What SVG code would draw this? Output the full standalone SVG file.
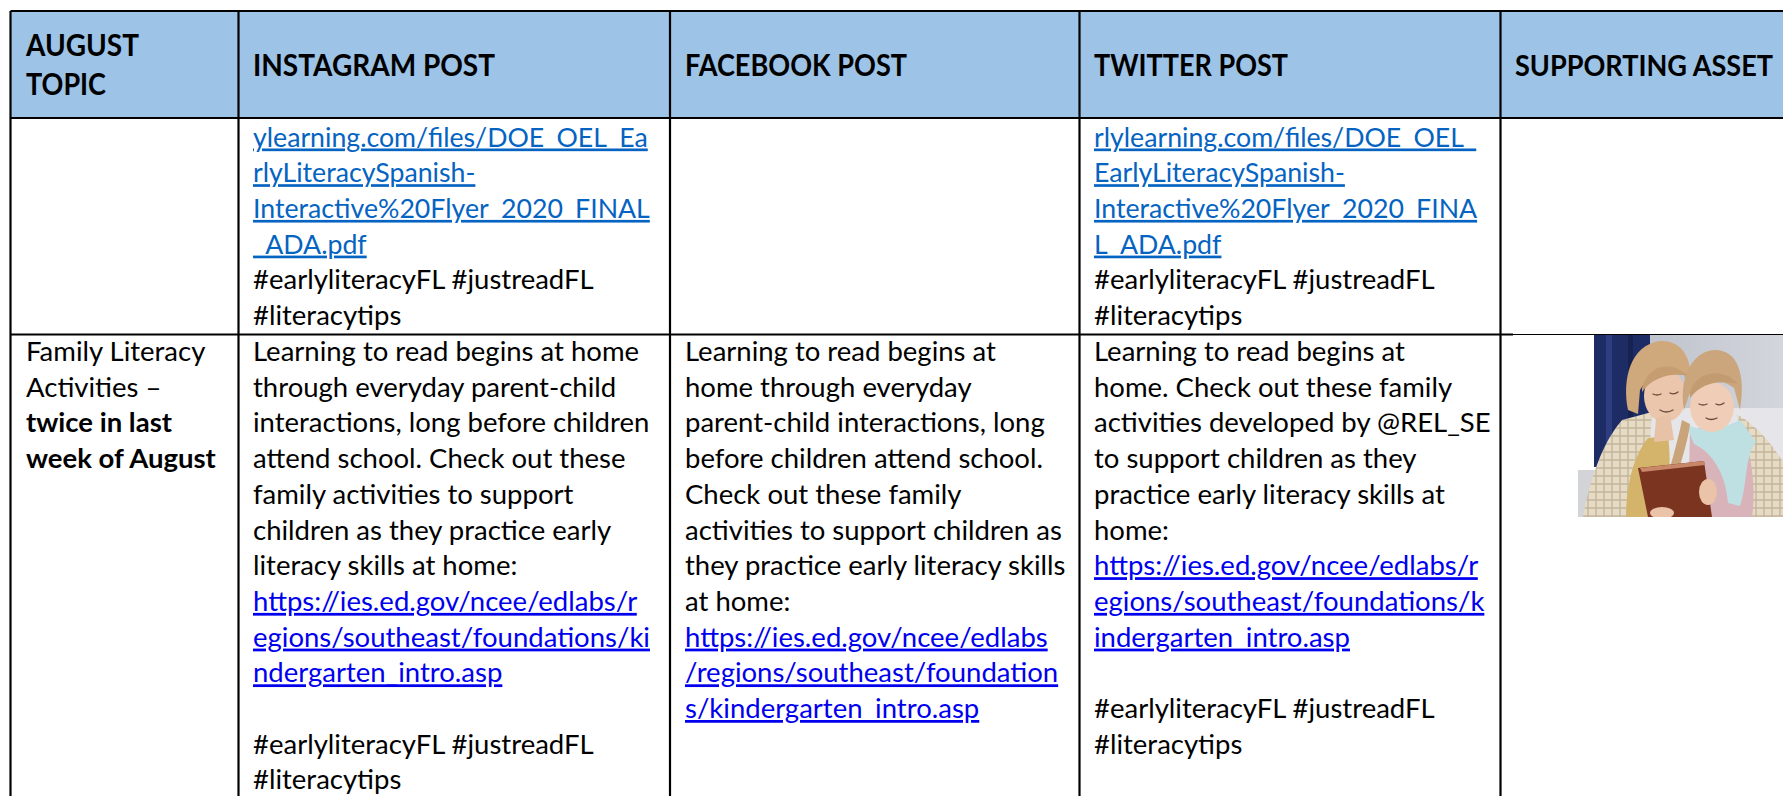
<svg xmlns="http://www.w3.org/2000/svg" width="1783" height="796" viewBox="0 0 1783 796">
<style>
.t{font-family:Lato,"Open Sans","Liberation Sans",sans-serif;font-size:27.5px;fill:#000}
.b{font-weight:bold}
.h{font-family:Lato,"Open Sans","Liberation Sans",sans-serif;font-size:29.5px;font-weight:bold;fill:#000}
.l1{fill:#0563C1;text-decoration:underline;font-size:26.7px}
.l2{fill:#0000EE;text-decoration:underline}
.grid{stroke:#000;stroke-width:2.2;fill:none}
.feat{fill:none;stroke:#6B4A3A;stroke-width:1.3;stroke-linecap:round}
</style>
<defs>
<clipPath id="pc"><rect x="1578" y="335" width="205" height="182"/></clipPath>
<pattern id="plaid" width="8" height="8" patternUnits="userSpaceOnUse">
<rect width="8" height="8" fill="#E6DCC6"/>
<path d="M0 4H8M4 0V8" stroke="#C4B69C" stroke-width="1.4"/>
</pattern>
<linearGradient id="wall" x1="0" y1="0" x2="1" y2="0">
<stop offset="0" stop-color="#BFC3CD"/>
<stop offset="1" stop-color="#D3D6DC"/>
</linearGradient>
</defs>
<rect width="1783" height="796" fill="#fff"/>
<g id="header">
<rect x="10.5" y="11" width="1772.5" height="107" fill="#9DC3E6"/>
<text class="h" x="26" y="55.5" textLength="113" lengthAdjust="spacingAndGlyphs">AUGUST</text>
<text class="h" x="26" y="94.5" textLength="80" lengthAdjust="spacingAndGlyphs">TOPIC</text>
<text class="h" x="253" y="76" textLength="242" lengthAdjust="spacingAndGlyphs">INSTAGRAM POST</text>
<text class="h" x="685" y="76" textLength="222" lengthAdjust="spacingAndGlyphs">FACEBOOK POST</text>
<text class="h" x="1094" y="76" textLength="194" lengthAdjust="spacingAndGlyphs">TWITTER POST</text>
<text class="h" x="1515" y="76" style="font-size:27.6px" textLength="258" lengthAdjust="spacingAndGlyphs">SUPPORTING ASSET</text>
</g>
<g id="row1">
<text class="t">
<tspan class="l1" x="253" y="146.5">ylearning.com/files/DOE_OEL_Ea</tspan>
<tspan class="l1" x="253" y="182.2">rlyLiteracySpanish-</tspan>
<tspan class="l1" x="253" y="217.9">Interactive%20Flyer_2020_FINAL</tspan>
<tspan class="l1" x="253" y="253.6">_ADA.pdf</tspan>
<tspan x="253" y="289.3">#earlyliteracyFL #justreadFL</tspan>
<tspan x="253" y="325">#literacytips</tspan>
</text>
<text class="t">
<tspan class="l1" x="1094" y="146.5">rlylearning.com/files/DOE_OEL_</tspan>
<tspan class="l1" x="1094" y="182.2">EarlyLiteracySpanish-</tspan>
<tspan class="l1" x="1094" y="217.9">Interactive%20Flyer_2020_FINA</tspan>
<tspan class="l1" x="1094" y="253.6">L_ADA.pdf</tspan>
<tspan x="1094" y="289.3">#earlyliteracyFL #justreadFL</tspan>
<tspan x="1094" y="325">#literacytips</tspan>
</text>
</g>
<g id="row2">
<text class="t">
<tspan x="26" y="361">Family Literacy</tspan>
<tspan x="26" y="396.7">Activities –</tspan>
<tspan class="b" x="26" y="432.4">twice in last</tspan>
<tspan class="b" x="26" y="468.1">week of August</tspan>
</text>
<text class="t">
<tspan x="253" y="361">Learning to read begins at home</tspan>
<tspan x="253" y="396.7">through everyday parent-child</tspan>
<tspan x="253" y="432.4">interactions, long before children</tspan>
<tspan x="253" y="468.1">attend school. Check out these</tspan>
<tspan x="253" y="503.8">family activities to support</tspan>
<tspan x="253" y="539.5">children as they practice early</tspan>
<tspan x="253" y="575.2">literacy skills at home:</tspan>
<tspan class="l2" x="253" y="610.9">https://ies.ed.gov/ncee/edlabs/r</tspan>
<tspan class="l2" x="253" y="646.6">egions/southeast/foundations/ki</tspan>
<tspan class="l2" x="253" y="682.3">ndergarten_intro.asp</tspan>
<tspan x="253" y="753.7">#earlyliteracyFL #justreadFL</tspan>
<tspan x="253" y="789.4">#literacytips</tspan>
</text>
<text class="t">
<tspan x="685" y="361">Learning to read begins at</tspan>
<tspan x="685" y="396.7">home through everyday</tspan>
<tspan x="685" y="432.4">parent-child interactions, long</tspan>
<tspan x="685" y="468.1">before children attend school.</tspan>
<tspan x="685" y="503.8">Check out these family</tspan>
<tspan x="685" y="539.5">activities to support children as</tspan>
<tspan x="685" y="575.2">they practice early literacy skills</tspan>
<tspan x="685" y="610.9">at home:</tspan>
<tspan class="l2" x="685" y="646.6">https://ies.ed.gov/ncee/edlabs</tspan>
<tspan class="l2" x="685" y="682.3">/regions/southeast/foundation</tspan>
<tspan class="l2" x="685" y="718">s/kindergarten_intro.asp</tspan>
</text>
<text class="t">
<tspan x="1094" y="361">Learning to read begins at</tspan>
<tspan x="1094" y="396.7">home. Check out these family</tspan>
<tspan x="1094" y="432.4">activities developed by @REL_SE</tspan>
<tspan x="1094" y="468.1">to support children as they</tspan>
<tspan x="1094" y="503.8">practice early literacy skills at</tspan>
<tspan x="1094" y="539.5">home:</tspan>
<tspan class="l2" x="1094" y="575.2">https://ies.ed.gov/ncee/edlabs/r</tspan>
<tspan class="l2" x="1094" y="610.9">egions/southeast/foundations/k</tspan>
<tspan class="l2" x="1094" y="646.6">indergarten_intro.asp</tspan>
<tspan x="1094" y="718">#earlyliteracyFL #justreadFL</tspan>
<tspan x="1094" y="753.7">#literacytips</tspan>
</text>
</g>
<g id="photo" clip-path="url(#pc)">
<rect x="1578" y="335" width="205" height="182" fill="#fff"/>
<rect x="1650" y="335" width="133" height="75" fill="url(#wall)"/>
<rect x="1650" y="408" width="133" height="109" fill="#E6E6EA"/>
<rect x="1578" y="470" width="22" height="47" fill="#D3D4D8"/>
<rect x="1594" y="335" width="56" height="132" fill="#1E2C66"/>
<rect x="1606" y="335" width="6" height="132" fill="#2D3D80"/>
<rect x="1628" y="335" width="5" height="132" fill="#16224F"/>
<path d="M1583 517 C1592 470 1605 440 1622 420 L1652 412 C1648 460 1650 495 1655 517 Z" fill="url(#plaid)"/>
<path d="M1736 414 C1758 425 1776 450 1783 462 L1783 517 L1752 517 C1754 480 1748 445 1736 414 Z" fill="url(#plaid)"/>
<path d="M1626 517 C1626 485 1634 455 1648 438 L1668 436 C1672 465 1668 495 1660 517 Z" fill="#D4B36B"/>
<path d="M1690 428 L1742 428 C1752 455 1756 490 1752 517 L1688 517 Z" fill="#D9B3BA"/>
<path d="M1686 424 C1700 432 1720 430 1740 420 L1756 442 C1744 458 1748 482 1740 506 L1728 503 C1726 474 1712 452 1694 444 Z" fill="#BFE0E2"/>
<path d="M1628 410 C1622 380 1630 345 1660 341 C1688 340 1694 368 1690 395 L1684 375 C1672 368 1650 372 1640 390 L1638 414 Z" fill="#CFA87C"/>
<ellipse cx="1665" cy="396" rx="21" ry="26" fill="#EBC6AC"/>
<path d="M1642 388 C1648 364 1672 360 1688 376 C1670 372 1652 378 1642 392 Z" fill="#C59D70"/>
<path class="feat" d="M1653 394 q4 2 8 0 M1670 393 q4 2 8 -1 M1660 410 q6 4 13 0"/>
<path d="M1684 410 C1678 375 1695 350 1715 350 C1738 350 1746 375 1740 410 L1734 388 C1722 378 1700 378 1690 392 Z" fill="#CBA67C"/>
<ellipse cx="1712" cy="407" rx="22" ry="25" fill="#EFCDB6"/>
<path d="M1690 392 C1696 372 1722 366 1738 384 C1720 380 1702 382 1690 398 Z" fill="#C29B70"/>
<path class="feat" d="M1699 404 q4 2 8 0 M1716 404 q4 2 8 -1 M1706 418 q5 3 11 0"/>
<path d="M1682 420 C1678 440 1672 460 1668 476 L1676 478 C1682 460 1688 440 1690 424 Z" fill="#C9A47A"/>
<path d="M1656 418 L1670 414 L1674 440 L1654 442 Z" fill="#E8C2A6"/>
<path d="M1638 468 L1704 461 L1712 517 L1648 517 Z" fill="#7A3420"/>
<path d="M1640 468 L1704 461 L1705 465 L1642 472 Z" fill="#C9876A"/>
<ellipse cx="1708" cy="492" rx="9" ry="13" fill="#EBC3A8"/>
<ellipse cx="1662" cy="513" rx="12" ry="6" fill="#EBC3A8"/>
</g>
<g id="grid" class="grid">
<line x1="10.5" y1="11" x2="1783" y2="11"/>
<line x1="10.5" y1="118" x2="1783" y2="118"/>
<line x1="10.5" y1="334.5" x2="1513" y2="334.5"/>
<line x1="1513" y1="334.5" x2="1783" y2="334.5" stroke-width="1"/>
<line x1="10.5" y1="11" x2="10.5" y2="796"/>
<line x1="238.5" y1="11" x2="238.5" y2="796"/>
<line x1="670" y1="11" x2="670" y2="796"/>
<line x1="1079.5" y1="11" x2="1079.5" y2="796"/>
<line x1="1500.5" y1="11" x2="1500.5" y2="796"/>
</g>
</svg>
